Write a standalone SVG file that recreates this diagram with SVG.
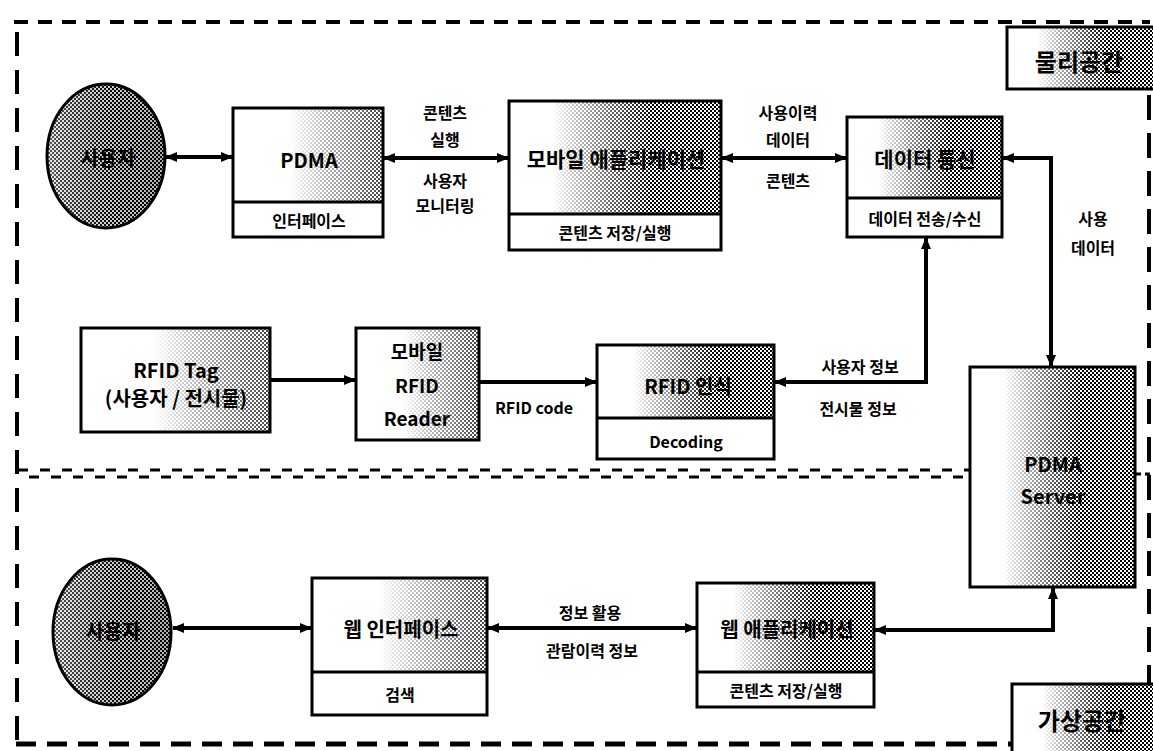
<svg xmlns="http://www.w3.org/2000/svg" width="1153" height="751" viewBox="0 0 1153 751">
<style>
text{font-family:"Noto Sans CJK KR","Liberation Sans",sans-serif;font-weight:bold;fill:#000;text-anchor:middle;dominant-baseline:central}
.t20{font-size:20px}
.t17{font-size:16px}
.lbl{font-size:16px}
.box{fill:#fff;stroke:#000;stroke-width:3}
.div{stroke:#000;stroke-width:3}
.conn{fill:none;stroke:#000;stroke-width:4}
.frame{fill:none;stroke:#000}
</style>
<defs>
<pattern id="dots" width="4" height="4" patternUnits="userSpaceOnUse">
<rect width="2" height="2" fill="#000"/><rect x="2" y="2" width="2" height="2" fill="#000"/>
</pattern>
<linearGradient id="gDark"><stop offset="0.2" stop-color="#000"/><stop offset="0.68" stop-color="#fff"/></linearGradient>
<linearGradient id="gLight"><stop offset="0.38" stop-color="#000"/><stop offset="1" stop-color="#b8b8b8"/></linearGradient>
<linearGradient id="gEll"><stop offset="0" stop-color="#999"/><stop offset="0.6" stop-color="#fff"/></linearGradient>
<linearGradient id="gEllBase"><stop offset="0" stop-color="#e8e8e8"/><stop offset="1" stop-color="#b0b0b0"/></linearGradient>
<mask id="mDark" maskContentUnits="objectBoundingBox"><rect width="1" height="1" fill="url(#gDark)"/></mask>
<mask id="mLight" maskContentUnits="objectBoundingBox"><rect width="1" height="1" fill="url(#gLight)"/></mask>
<mask id="mEll" maskContentUnits="objectBoundingBox"><rect width="1" height="1" fill="url(#gEll)"/></mask>
<marker id="ah" viewBox="0 0 12 10" refX="11" refY="5" markerWidth="12" markerHeight="10" markerUnits="userSpaceOnUse" orient="auto-start-reverse">
<path d="M0,0 L12,5 L0,10 z" fill="#000"/>
</marker>
</defs>

<g id="frame">
<line class="frame" x1="14" y1="22" x2="1150" y2="22" stroke-width="4" stroke-dasharray="14 10"/>
<line class="frame" x1="17" y1="32" x2="17" y2="745" stroke-width="4" stroke-dasharray="24 14"/>
<line class="frame" x1="16" y1="744" x2="1012" y2="744" stroke-width="5" stroke-dasharray="20 11"/>
<line class="frame" x1="1149" y1="95" x2="1149" y2="684" stroke-width="4" stroke-dasharray="25 13"/>
<line class="frame" x1="18" y1="470" x2="970" y2="470" stroke-width="3" stroke-dasharray="10 12"/>
<line class="frame" x1="29" y1="477" x2="970" y2="477" stroke-width="3" stroke-dasharray="10 12"/>
<line class="frame" x1="1135" y1="474" x2="1150" y2="474" stroke-width="3" stroke-dasharray="6 4"/>
</g>

<g id="connectors">
<line class="conn" x1="166" y1="157" x2="232" y2="157" marker-start="url(#ah)" marker-end="url(#ah)"/>
<line class="conn" x1="384" y1="158" x2="508" y2="158" marker-start="url(#ah)" marker-end="url(#ah)"/>
<line class="conn" x1="722" y1="158" x2="846" y2="158" marker-start="url(#ah)" marker-end="url(#ah)"/>
<path class="conn" d="M1003,158 H1051 V366" marker-start="url(#ah)" marker-end="url(#ah)"/>
<path class="conn" d="M775,382 H926 V238" marker-start="url(#ah)" marker-end="url(#ah)"/>
<line class="conn" x1="271" y1="380" x2="355" y2="380" marker-end="url(#ah)"/>
<line class="conn" x1="480" y1="382" x2="596" y2="382" marker-end="url(#ah)"/>
<line class="conn" x1="173" y1="628" x2="311" y2="628" marker-start="url(#ah)" marker-end="url(#ah)"/>
<line class="conn" x1="488" y1="628" x2="696" y2="628" marker-start="url(#ah)" marker-end="url(#ah)"/>
<path class="conn" d="M875,630 H1053 V588" marker-start="url(#ah)" marker-end="url(#ah)"/>
<text class="lbl" x="445" y="112">콘텐츠</text>
<text class="lbl" x="445" y="139">실행</text>
<text class="lbl" x="445" y="180">사용자</text>
<text class="lbl" x="445" y="205">모니터링</text>
<text class="lbl" x="788" y="112">사용이력</text>
<text class="lbl" x="788" y="139">데이터</text>
<text class="lbl" x="788" y="180">콘텐츠</text>
<text class="lbl" x="1093" y="218">사용</text>
<text class="lbl" x="1093" y="247">데이터</text>
<text class="lbl" x="534" y="407">RFID code</text>
<text class="lbl" x="860" y="366">사용자 정보</text>
<text class="lbl" x="858" y="408">전시물 정보</text>
<text class="lbl" x="590" y="612">정보 활용</text>
<text class="lbl" x="592" y="650">관람이력 정보</text>
</g>

<g id="physicalSpace">
<rect class="box" x="1007" y="27" width="150" height="62"/>
<rect x="1008" y="28" width="148" height="60" fill="url(#dots)" mask="url(#mDark)"/>
<text x="1079" y="60" style="font-size:24px">물리공간</text>
</g>

<g id="user1">
<ellipse cx="106" cy="156" rx="59" ry="72" fill="url(#gEllBase)"/>
<ellipse cx="106" cy="156" rx="59" ry="72" fill="url(#dots)" mask="url(#mEll)"/>
<ellipse cx="106" cy="156" rx="59" ry="72" fill="none" stroke="#000" stroke-width="3"/>
<text class="t20" x="108" y="157">사용자</text>
</g>

<g id="pdma">
<rect class="box" x="233" y="108" width="150" height="129"/>
<rect x="234" y="109" width="148" height="92" fill="url(#dots)" mask="url(#mLight)"/>
<line class="div" x1="233" y1="202" x2="383" y2="202"/>
<text class="t20" x="309" y="159">PDMA</text>
<text class="t17" x="309" y="220">인터페이스</text>
</g>

<g id="mobileApp">
<rect class="box" x="509" y="101" width="212" height="149"/>
<rect x="510" y="102" width="210" height="111" fill="url(#dots)" mask="url(#mDark)"/>
<line class="div" x1="509" y1="214" x2="721" y2="214"/>
<text x="616" y="158" style="font-size:21px">모바일 애플리케이션</text>
<text class="t17" x="615" y="232">콘텐츠 저장/실행</text>
</g>

<g id="dataComm">
<rect class="box" x="847" y="117" width="155" height="120"/>
<rect x="848" y="118" width="153" height="79" fill="url(#dots)" mask="url(#mDark)"/>
<line class="div" x1="847" y1="198" x2="1002" y2="198"/>
<text x="925" y="158" style="font-size:21px">데이터 통신</text>
<text class="t17" x="925" y="218">데이터 전송/수신</text>
</g>

<g id="rfidTag">
<rect class="box" x="81" y="328" width="189" height="104"/>
<rect x="82" y="329" width="187" height="102" fill="url(#dots)" mask="url(#mLight)"/>
<text x="176" y="369" style="font-size:20px">RFID Tag</text>
<text x="176" y="397" style="font-size:20px">(사용자 / 전시물)</text>
</g>

<g id="rfidReader">
<rect class="box" x="356" y="328" width="123" height="112"/>
<rect x="357" y="329" width="121" height="110" fill="url(#dots)" mask="url(#mLight)"/>
<text x="417" y="350" style="font-size:19px">모바일</text>
<text x="417" y="384" style="font-size:19px">RFID</text>
<text x="417" y="417" style="font-size:19px">Reader</text>
</g>

<g id="rfidRecog">
<rect class="box" x="597" y="345" width="177" height="114"/>
<rect x="598" y="346" width="175" height="71" fill="url(#dots)" mask="url(#mDark)"/>
<line class="div" x1="597" y1="418" x2="774" y2="418"/>
<text class="t20" x="688" y="385">RFID 인식</text>
<text class="t17" x="686" y="441">Decoding</text>
</g>

<g id="pdmaServer">
<rect class="box" x="970" y="367" width="165" height="220"/>
<rect x="971" y="368" width="163" height="218" fill="url(#dots)" mask="url(#mDark)"/>
<text class="t20" x="1053" y="463">PDMA</text>
<text class="t20" x="1053" y="495">Server</text>
</g>

<g id="user2">
<ellipse cx="112" cy="632" rx="59" ry="73" fill="url(#gEllBase)"/>
<ellipse cx="112" cy="632" rx="59" ry="73" fill="url(#dots)" mask="url(#mEll)"/>
<ellipse cx="112" cy="632" rx="59" ry="73" fill="none" stroke="#000" stroke-width="3"/>
<text class="t20" x="113" y="630">사용자</text>
</g>

<g id="webInterface">
<rect class="box" x="312" y="578" width="175" height="137"/>
<rect x="313" y="579" width="173" height="92" fill="url(#dots)" mask="url(#mLight)"/>
<line class="div" x1="312" y1="672" x2="487" y2="672"/>
<text class="t20" x="401" y="628">웹 인터페이스</text>
<text class="t17" x="400" y="694">검색</text>
</g>

<g id="webApp">
<rect class="box" x="697" y="583" width="177" height="124"/>
<rect x="698" y="584" width="175" height="87" fill="url(#dots)" mask="url(#mDark)"/>
<line class="div" x1="697" y1="672" x2="874" y2="672"/>
<text class="t20" x="787" y="628">웹 애플리케이션</text>
<text class="t17" x="786" y="690">콘텐츠 저장/실행</text>
</g>

<g id="virtualSpace">
<rect class="box" x="1012" y="684" width="145" height="70"/>
<rect x="1013" y="685" width="143" height="68" fill="url(#dots)" mask="url(#mDark)"/>
<text x="1082" y="719" style="font-size:24px">가상공간</text>
</g>
</svg>
